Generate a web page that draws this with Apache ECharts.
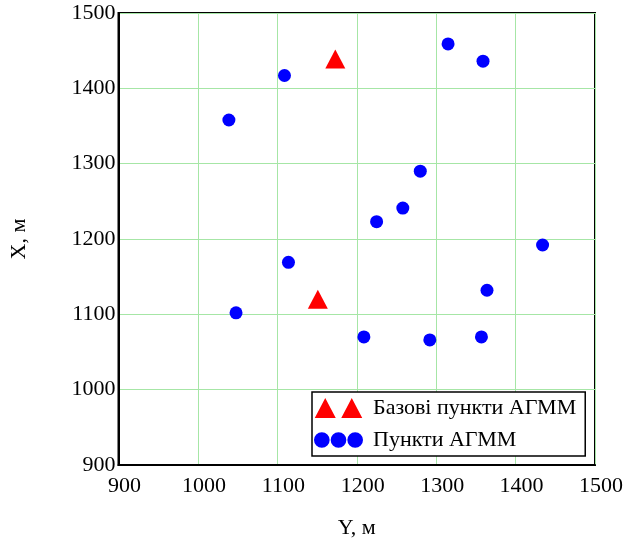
<!DOCTYPE html>
<html>
<head>
<meta charset="utf-8">
<script src="https://cdn.jsdelivr.net/npm/echarts@6/dist/echarts.min.js"></script>
<style>html,body{margin:0;padding:0;background:#fff;}#c{width:626px;height:544px;}</style>
</head>
<body>
<div id="c"></div>
<script>
// Horizontal axis is Y (м), vertical axis is X (м)
const baseName = 'Базові пункти АГММ';
const pointName = 'Пункти АГММ';
const baseY = [1173, 1151];
const baseX = [1439, 1120];
const pointY = [1109, 1039, 1114, 1315, 1359, 1280, 1258, 1225, 1434, 1048, 1364, 1209, 1292, 1357];
const pointX = [1417, 1358, 1169, 1459, 1436, 1290, 1241, 1223, 1192, 1102, 1132, 1070, 1066, 1070];
const axisMin = 900, axisMax = 1500, axisStep = 100;

const font = "'Liberation Serif','Times New Roman',serif";
const fs = 22;
const chart = echarts.init(document.getElementById('c'), null, {renderer: 'canvas'});
chart.setOption({
  animation: false,
  backgroundColor: '#fff',
  textStyle: {fontFamily: font},
  grid: {left: 118.5, top: 13, right: 30.5, bottom: 79, show: true, borderColor: '#000', borderWidth: 2, backgroundColor: 'transparent'},
  legend: {
    orient: 'vertical', left: 312, top: 392,
    backgroundColor: '#fff', borderColor: '#000', borderWidth: 1.5, borderRadius: 0,
    padding: [5, 9, 5, 2], itemGap: 10, itemWidth: 49, itemHeight: 20,
    symbolKeepAspect: true,
    textStyle: {fontFamily: font, fontSize: fs, color: '#000', padding: [0, 0, 0, 5]},
    data: [
      {name: baseName, icon: 'path://M0,20L10.5,0L21,20Z M26.5,20L37,0L47.5,20Z'},
      {name: pointName, icon: 'path://M0,7.75a7.75,7.75 0 1,0 15.5,0a7.75,7.75 0 1,0 -15.5,0Z M16.5,7.75a7.75,7.75 0 1,0 15.5,0a7.75,7.75 0 1,0 -15.5,0Z M33,7.75a7.75,7.75 0 1,0 15.5,0a7.75,7.75 0 1,0 -15.5,0Z'}
    ]
  },
  xAxis: {
    type: 'value', min: axisMin, max: axisMax, interval: axisStep,
    name: 'Y, м', nameLocation: 'middle', nameGap: 52,
    nameTextStyle: {fontFamily: font, fontSize: fs, color: '#000'},
    axisLine: {show: true, lineStyle: {color: '#000', width: 2}},
    axisTick: {show: false},
    axisLabel: {fontFamily: font, fontSize: fs, color: '#000', margin: 10, padding: [0, 0, 0, 12], formatter: v => String(v)},
    splitLine: {show: true, lineStyle: {color: '#a6e6a6', width: 1}}
  },
  yAxis: {
    type: 'value', min: axisMin, max: axisMax, interval: axisStep,
    name: 'X, м', nameLocation: 'middle', nameGap: 88, nameRotate: 90,
    nameTextStyle: {fontFamily: font, fontSize: fs, color: '#000'},
    axisLine: {show: true, lineStyle: {color: '#000', width: 2}},
    axisTick: {show: false},
    axisLabel: {fontFamily: font, fontSize: fs, color: '#000', margin: 3, padding: [6, 0, 0, 0], formatter: v => String(v)},
    splitLine: {show: true, lineStyle: {color: '#a6e6a6', width: 1}}
  },
  series: [
    {
      name: baseName, type: 'scatter', symbol: 'triangle', symbolSize: [20, 19],
      itemStyle: {color: '#ff0000', opacity: 1},
      data: baseY.map((y, i) => [y, baseX[i]])
    },
    {
      name: pointName, type: 'scatter', symbol: 'circle', symbolSize: 13,
      itemStyle: {color: '#0000ff', opacity: 1},
      data: pointY.map((y, i) => [y, pointX[i]])
    }
  ]
});
</script>
</body>
</html>
